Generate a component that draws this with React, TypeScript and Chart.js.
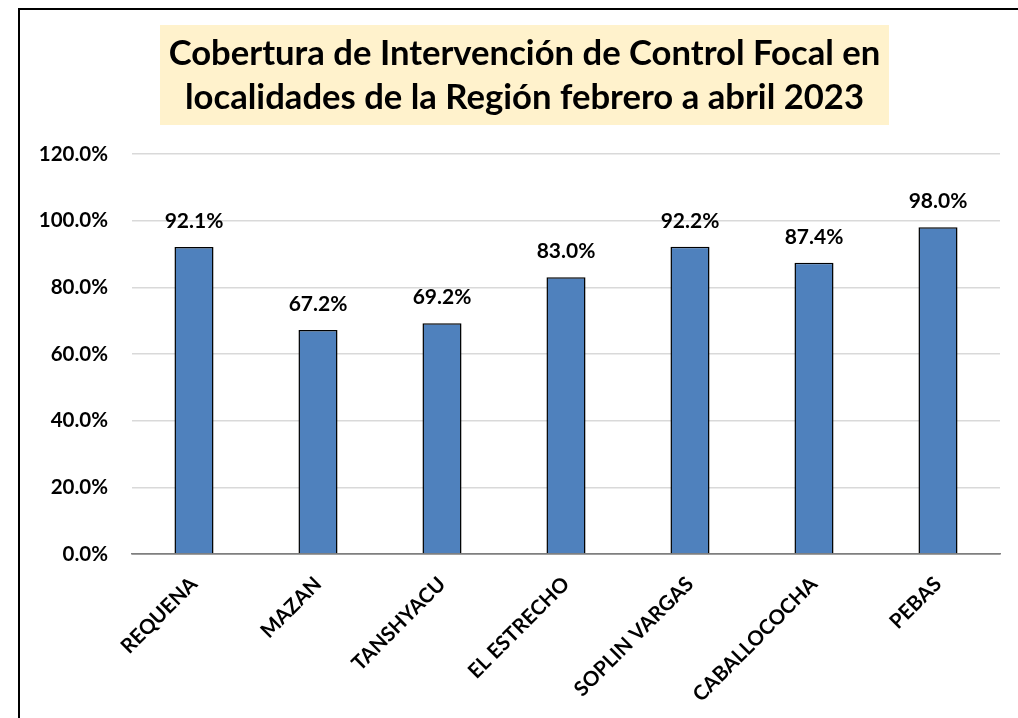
import React, { useEffect, useRef } from 'react';
import { Chart, registerables } from 'chart.js';

Chart.register(...registerables);

const categories = ['REQUENA', 'MAZAN', 'TANSHYACU', 'EL ESTRECHO', 'SOPLIN VARGAS', 'CABALLOCOCHA', 'PEBAS'];
const coverage = [92.1, 67.2, 69.2, 83.0, 92.2, 87.4, 98.0];
const titleLines = [
  'Cobertura de Intervención de Control Focal en',
  'localidades de la Región febrero a abril 2023',
];
const yMin = 0;
const yMax = 120;
const yStep = 20;

const FONT = 'Lato, "Open Sans", sans-serif';

const framePlugin = {
  id: 'frame',
  beforeDraw(chart: any) {
    const { ctx, width, height } = chart;
    ctx.save();
    ctx.fillStyle = '#ffffff';
    ctx.fillRect(0, 0, width, height);
    ctx.strokeStyle = '#000000';
    ctx.lineWidth = 2;
    ctx.strokeRect(19, 9, width + 50, height + 50);
    // title box
    ctx.fillStyle = '#FFF2CC';
    ctx.fillRect(160, 25, 729, 100);
    ctx.font = `bold 35px ${FONT}`;
    const w = ctx.measureText(titleLines[0]).width;
    const size = (35 * 712) / w;
    ctx.font = `bold ${size}px ${FONT}`;
    ctx.fillStyle = '#000000';
    ctx.textAlign = 'center';
    ctx.textBaseline = 'alphabetic';
    ctx.fillText(titleLines[0], 524.5, 65);
    ctx.fillText(titleLines[1], 524.5, 109);
    ctx.restore();
  },
};

const valueLabelPlugin = {
  id: 'valueLabels',
  afterDatasetsDraw(chart: any) {
    const { ctx } = chart;
    const meta = chart.getDatasetMeta(0);
    ctx.save();
    ctx.font = `bold 21px ${FONT}`;
    ctx.fillStyle = '#000000';
    ctx.textAlign = 'center';
    ctx.textBaseline = 'alphabetic';
    meta.data.forEach((bar: any, i: number) => {
      const v = chart.data.datasets[0].data[i] as number;
      ctx.fillText(v.toFixed(1) + '%', bar.x, bar.y - 19);
    });
    ctx.restore();
  },
};

export default function App() {
  const canvasRef = useRef<HTMLCanvasElement | null>(null);

  useEffect(() => {
    document.body.style.margin = '0';
    const canvas = canvasRef.current;
    if (!canvas) return;
    const chart = new Chart(canvas, {
      type: 'bar',
      data: {
        labels: categories,
        datasets: [
          {
            data: coverage,
            backgroundColor: '#4F81BD',
            borderColor: '#000000',
            borderWidth: 1.5,
            categoryPercentage: 1,
            barPercentage: 0.315,
          },
        ],
      },
      options: {
        responsive: false,
        animation: false,
        devicePixelRatio: 1,
        layout: { padding: { top: 154, right: 18, left: 0, bottom: 0 } },
        plugins: {
          legend: { display: false },
          title: { display: false },
          tooltip: { enabled: false },
        },
        scales: {
          x: {
            grid: { display: false },
            border: { display: true, color: '#7f7f7f', width: 1.5 },
            ticks: {
              minRotation: 45,
              maxRotation: 45,
              color: '#000000',
              padding: 10,
              font: { family: FONT, weight: 'bold', size: 20.5 },
            },
            afterFit: (s: any) => {
              s.height = 164;
            },
          },
          y: {
            min: yMin,
            max: yMax,
            ticks: {
              stepSize: yStep,
              color: '#000000',
              padding: 24,
              font: { family: FONT, weight: 'bold', size: 20.5 },
              callback: (v: any) => Number(v).toFixed(1) + '%',
            },
            grid: {
              color: (c: any) => (c.tick && c.tick.value === 0 ? '#7f7f7f' : '#d9d9d9'),
              lineWidth: 1.5,
              drawTicks: false,
            },
            border: { display: false },
            afterFit: (s: any) => {
              s.width = 132;
            },
          },
        },
      },
      plugins: [framePlugin, valueLabelPlugin],
    });
    return () => chart.destroy();
  }, []);

  return (
    <div style={{ position: 'absolute', left: 0, top: 0, width: 1018, height: 718 }}>
      <canvas ref={canvasRef} width={1018} height={718} />
    </div>
  );
}
